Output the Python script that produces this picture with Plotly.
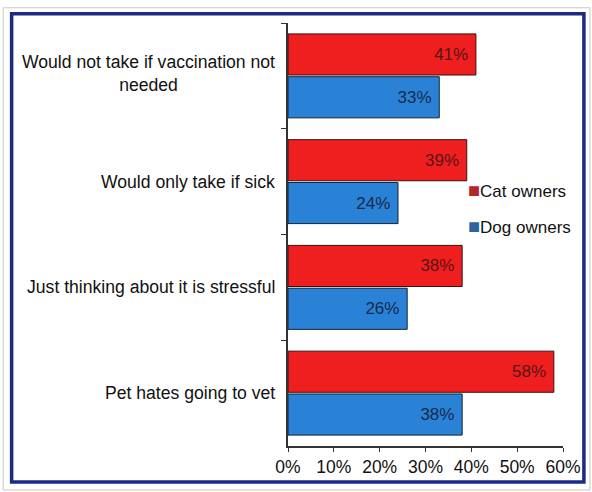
import plotly.graph_objects as go

# Survey reasons for not taking the pet to the vet
categories = [
    "Would not take if vaccination not<br>needed",
    "Would only take if sick",
    "Just thinking about it is stressful",
    "Pet hates going to vet",
]
cat_owners = [0.41, 0.39, 0.38, 0.58]
dog_owners = [0.33, 0.24, 0.26, 0.38]
x_tick_vals = [0, 0.1, 0.2, 0.3, 0.4, 0.5, 0.6]
x_tick_text = ["0%", "10%", "20%", "30%", "40%", "50%", "60%"]

series = [
    ("Cat owners", cat_owners, "#ef1f1f", "#3a1010", "#5a1414", "#b3262a"),
    ("Dog owners", dog_owners, "#2a82d6", "#10223a", "#16294a", "#2d64a0"),
]

FONT = "Liberation Sans, Arial, sans-serif"
TEXT = "#111111"

fig = go.Figure()
for name, values, fill, edge, label_col, _ in series:
    fig.add_trace(go.Bar(
        name=name, y=categories, x=values, orientation="h",
        marker=dict(color=fill, line=dict(color=edge, width=1)),
        texttemplate="%{x:.0%}\u00a0", textposition="inside",
        insidetextanchor="end",
        insidetextfont=dict(family=FONT, size=17, color=label_col),
        showlegend=False,
    ))

# Category labels, centred line by line to the left of the axis
for cat in categories:
    fig.add_annotation(
        x=0, y=cat, xref="x", yref="y", text=cat, showarrow=False,
        xanchor="right", yanchor="middle", align="center", xshift=-11,
        yshift=2 if "<br>" in cat else 0,
        font=dict(family=FONT, size=17.6, color=TEXT),
    )

# Key: coloured square followed by the series name
for i, (name, _, _, _, _, key_col) in enumerate(series):
    fig.add_annotation(
        x=0.648, y=0.605 - i * 0.085, xref="paper", yref="paper",
        text=(f"<span style='color:{key_col};font-size:20px'>\u25a0</span>"
              f"{name}"),
        showarrow=False, xanchor="left", yanchor="middle",
        font=dict(family=FONT, size=17, color=TEXT),
    )

# Chart frame
fig.add_shape(type="rect", xref="paper", yref="paper",
              x0=-1.036, x1=1.098, y0=-0.104, y1=1.036,
              line=dict(color="#c8c8c8", width=1), layer="below")
fig.add_shape(type="rect", xref="paper", yref="paper",
              x0=-1.005, x1=1.076, y0=-0.085, y1=1.022,
              line=dict(color="#1c2a86", width=3.5), layer="below")

fig.update_layout(
    width=592, height=492,
    margin=dict(l=288, r=29, t=23, b=46),
    paper_bgcolor="white", plot_bgcolor="white",
    barmode="group", bargap=0.19, bargroupgap=0.04,
    font=dict(family=FONT, color=TEXT),
    showlegend=False,
    xaxis=dict(
        range=[0, 0.6], tickvals=x_tick_vals, ticktext=x_tick_text,
        showgrid=False, zeroline=False, showline=True, linecolor="#333",
        linewidth=1.5, ticks="outside", ticklen=4, tickcolor="#333",
        tickfont=dict(family=FONT, size=17.5, color=TEXT),
    ),
    yaxis=dict(
        autorange="reversed", showticklabels=False, showgrid=False,
        showline=True, linecolor="#333", linewidth=1.5,
        ticks="outside", ticklen=5, tickcolor="#333", tickson="boundaries",
    ),
)

fig.write_html("out.html")
